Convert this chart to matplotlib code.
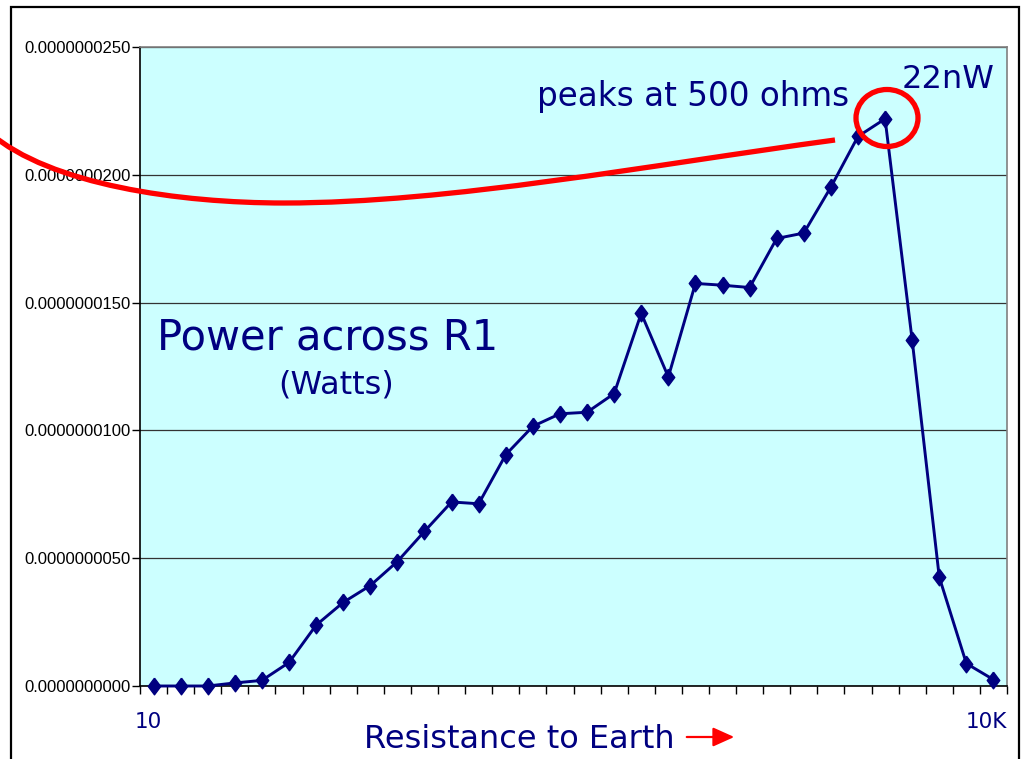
import matplotlib

matplotlib.use("Agg")
import matplotlib.pyplot as plt
import numpy as np
from matplotlib import font_manager
from matplotlib.patches import Ellipse, FancyArrowPatch, PathPatch, Rectangle
from matplotlib.path import Path

W, H = 1024, 759

# power across R1 (watts), 32 steps of earth resistance from 10 ohm to 10k
power_nw = [
    0.0, 0.0, 0.0, 0.12, 0.22, 0.92, 2.38, 3.27, 3.93, 4.87, 6.05, 7.20, 7.13, 9.05, 10.16, 10.65,
    10.71, 11.44, 14.58, 12.09, 15.75, 15.68, 15.59, 17.51, 17.72, 19.52, 21.5, 22.19, 13.53, 4.26, 0.88, 0.25,
]
power_w = [p * 1e-9 for p in power_nw]
y_ticks = [0.0, 5e-9, 10e-9, 15e-9, 20e-9, 25e-9]
x_first_label = "10"
x_last_label = "10K"

NAVY = "#000080"
RED = "#FF0000"

names = {f.name for f in font_manager.fontManager.ttflist}
narrow = "Liberation Sans Narrow" if "Liberation Sans Narrow" in names else "Liberation Sans"
tick_size = 14 if narrow == "Liberation Sans Narrow" else 12


def px(x, y):
    return x / W, 1 - y / H


fig = plt.figure(figsize=(W / 100, H / 100), dpi=100)
fig.patch.set_facecolor("white")

left, top = px(140, 47)
right, bottom = px(1007, 686)
ax = fig.add_axes([left, bottom, right - left, top - bottom])
ax.set_facecolor("#CCFFFF")

xs = np.arange(len(power_w))
diamond = [(0, 1), (0.75, 0), (0, -1), (-0.75, 0), (0, 1)]
ax.plot(xs, power_w, color=NAVY, lw=2.1, marker=diamond, markersize=12,
        markerfacecolor=NAVY, markeredgecolor=NAVY, clip_on=False, zorder=3)

ax.set_xlim(-0.5, len(power_w) - 0.5)
ax.set_ylim(0, 25e-9)
ax.set_xticks(np.arange(-0.5, len(power_w), 1))
ax.set_xticklabels([])
ax.set_yticks(y_ticks)
ax.set_yticklabels([f"{v:.10f}" for v in y_ticks], family=[narrow, "DejaVu Sans"], fontsize=tick_size)
ax.tick_params(axis="both", direction="out", length=6, width=1, color="black", pad=1)
ax.yaxis.grid(True, color="#333333", lw=0.9)
ax.set_axisbelow(True)
for side in ("top", "right"):
    ax.spines[side].set_color("#808080")
    ax.spines[side].set_linewidth(1.2)
for side in ("left", "bottom"):
    ax.spines[side].set_color("black")
    ax.spines[side].set_linewidth(1.2)

# outer slide frame
x0, y0 = px(11, 7)
x1, y1 = px(1019, 770)
fig.add_artist(Rectangle((x0, y1), x1 - x0, y0 - y1, transform=fig.transFigure,
                         fill=False, edgecolor="black", lw=1.6))

txt = dict(color=NAVY, family="DejaVu Sans")
fig.text(*px(328, 350), "Power across R1", fontsize=30, ha="center", va="baseline", **txt)
fig.text(*px(336, 394), "(Watts)", fontsize=23, ha="center", va="baseline", **txt)
fig.text(*px(693, 106), "peaks at 500 ohms", fontsize=23.5, ha="center", va="baseline", **txt)
fig.text(*px(948, 88), "22nW", fontsize=23, ha="center", va="baseline", **txt)
fig.text(*px(519, 748), "Resistance to Earth", fontsize=23, ha="center", va="baseline", **txt)
fig.text(*px(148, 728), x_first_label, fontsize=15.5, ha="center", va="baseline", **txt)
fig.text(*px(1007, 728), x_last_label, fontsize=15.5, ha="right", va="baseline", **txt)

fig.add_artist(FancyArrowPatch(px(684, 737), px(737, 737), transform=fig.transFigure,
                               arrowstyle="-|>,head_length=10,head_width=4.5",
                               color=RED, lw=1.6, mutation_scale=1.3))

# red hand-drawn curve and circle
curve_pts = [(-10, 133), (50, 185), (180, 203), (284, 203), (450, 203), (650, 165), (835, 140)]
codes = [Path.MOVETO] + [Path.CURVE4] * 6
curve = Path([px(x, y) for x, y in curve_pts], codes)
fig.add_artist(PathPatch(curve, transform=fig.transFigure, fill=False,
                         edgecolor=RED, lw=3.8, capstyle="butt"))
cx, cy = px(887, 118)
fig.add_artist(Ellipse((cx, cy), 62 / W, 57 / H, transform=fig.transFigure,
                       fill=False, edgecolor=RED, lw=3.8))

fig.savefig("out.png", dpi=100)
